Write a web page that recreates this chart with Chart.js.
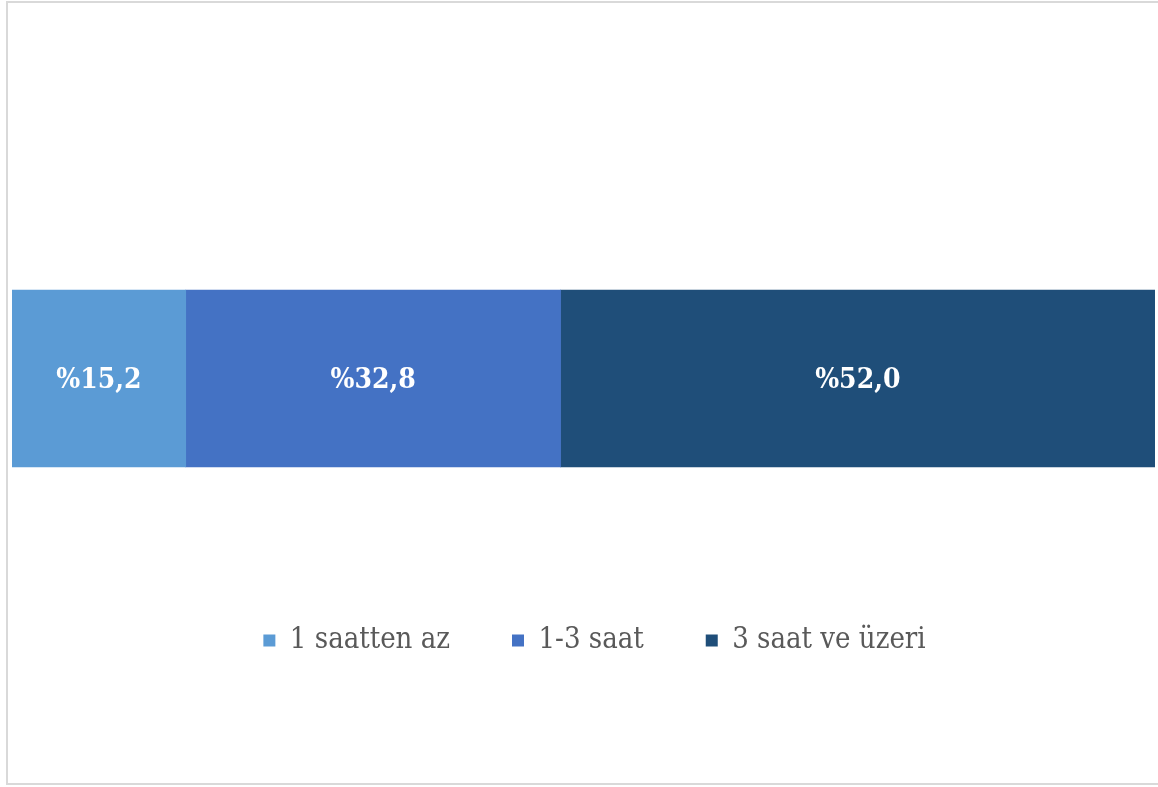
<!DOCTYPE html>
<html>
<head>
<meta charset="utf-8">
<script src="https://cdn.jsdelivr.net/npm/chart.js@4/dist/chart.umd.min.js"></script>
<style>
  html, body { margin: 0; padding: 0; background: #fff; overflow: hidden; }
  #box {
    position: absolute; left: 6px; top: 1px;
    width: 1152px; height: 780px;
    border: 2px solid #d9d9d9;
  }
  #box canvas { display: block; }
</style>
</head>
<body>
<div id="box"><canvas id="c" width="1152" height="780"></canvas></div>
<script>
  // veriler
  const categories = ['Süre'];
  const seriesNames = ['1 saatten az', '1-3 saat', '3 saat ve üzeri'];
  const seriesValues = [[15.2], [32.8], [52.0]];
  const seriesColors = ['#5B9BD5', '#4472C4', '#1F4E79'];

  const FONT = "'DejaVu Serif Condensed', 'DejaVu Serif', serif";

  // yüzde etiketleri (%15,2 biçimi)
  const barLabels = {
    id: 'barLabels',
    afterDatasetsDraw(chart) {
      const ctx = chart.ctx;
      ctx.save();
      ctx.fillStyle = '#fff';
      ctx.font = 'bold 28px ' + FONT;
      ctx.textAlign = 'center';
      ctx.textBaseline = 'middle';
      chart.data.datasets.forEach((ds, i) => {
        chart.getDatasetMeta(i).data.forEach((bar, j) => {
          const txt = '%' + ds.data[j].toFixed(1).replace('.', ',');
          ctx.fillText(txt, (bar.x + bar.base) / 2, bar.y + 2);
        });
      });
      ctx.restore();
    }
  };

  // lejantı biraz sağa kaydır
  const legendShift = {
    id: 'legendShift',
    afterLayout(chart) {
      if (!chart.legend) return;
      chart.legend.left += 11;
      chart.legend.right += 11;
    }
  };

  new Chart(document.getElementById('c'), {
    type: 'bar',
    data: {
      labels: categories,
      datasets: seriesNames.map((name, i) => ({
        label: name,
        data: seriesValues[i],
        backgroundColor: seriesColors[i],
        borderWidth: 0,
        barThickness: 177
      }))
    },
    options: {
      indexAxis: 'y',
      responsive: false,
      animation: false,
      layout: { padding: { left: 4, right: 5, top: 190, bottom: 118 } },
      scales: {
        x: { stacked: true, min: 0, max: 100, display: false },
        y: { stacked: true, display: false }
      },
      plugins: {
        legend: {
          position: 'bottom',
          labels: {
            boxWidth: 12,
            boxHeight: 12,
            padding: 62,
            color: '#595959',
            font: { family: FONT, size: 29 }
          }
        },
        tooltip: { enabled: false }
      }
    },
    plugins: [barLabels, legendShift]
  });
</script>
</body>
</html>
